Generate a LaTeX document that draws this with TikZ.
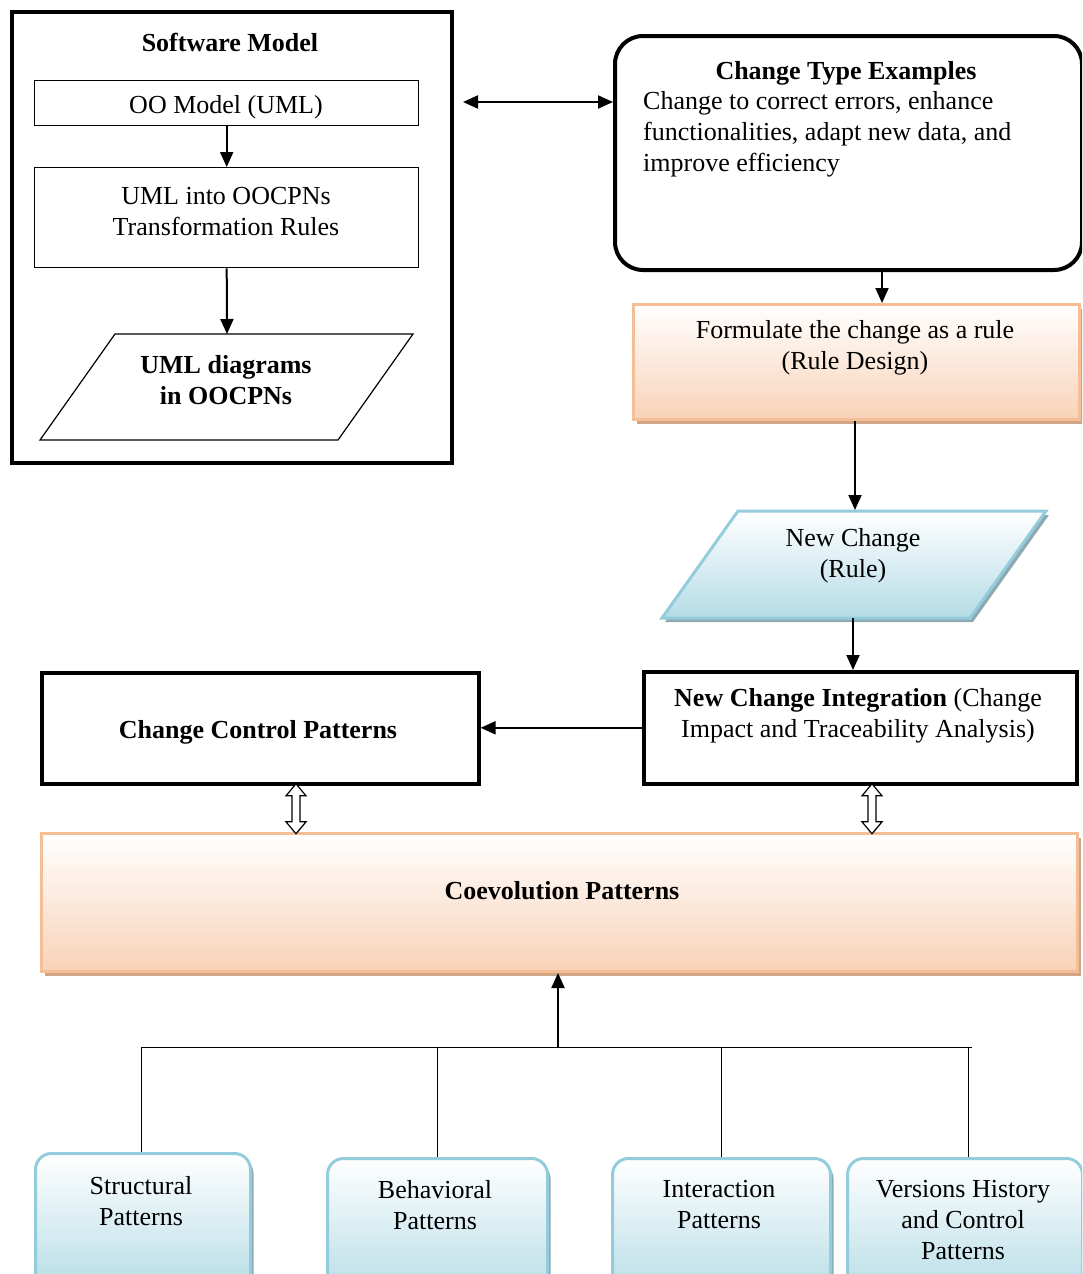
\documentclass[tikz,border=0pt]{standalone}
\usepackage{fontspec}
\setmainfont{Liberation Serif}
\usetikzlibrary{arrows.meta,calc,shadows}

\definecolor{peachline}{HTML}{F6BE94}
\definecolor{peachfill}{HTML}{F8D2B8}
\definecolor{peachshadow}{HTML}{CFA587}
\definecolor{blueline}{HTML}{93CDDC}
\definecolor{bluefill}{HTML}{B5DCE6}
\definecolor{blueshadow}{HTML}{8EA9B2}

\tikzset{
  txt/.style={font=\fontsize{26}{31}\selectfont, align=center, inner sep=0pt},
  thickbox/.style={draw, line width=3.6pt, inner sep=0pt, anchor=north west},
  thinbox/.style={draw, line width=1.4pt, inner sep=0pt, anchor=north west},
  peachbox/.style={draw=peachline, line width=3pt, inner sep=0pt, anchor=north west,
    top color=white, bottom color=peachfill,
    general shadow={fill=peachshadow, shadow xshift=3pt, shadow yshift=-4pt}},
  bluebox/.style={draw=blueline, line width=3pt, inner sep=0pt, anchor=north west,
    rounded corners=16pt, top color=white, bottom color=bluefill,
    general shadow={fill=blueshadow, shadow xshift=3pt, shadow yshift=-4pt}},
  arr/.style={line width=2pt, -{Triangle[length=15pt,width=13pt]}},
  dblarr/.style={line width=2pt, {Triangle[length=15pt,width=13pt]}-{Triangle[length=15pt,width=13pt]}},
  treeline/.style={line width=0.9pt},
  hollowdbl/.pic={
    \draw[line width=1.2pt, fill=white]
      (0,-25) -- (10,-13) -- (4,-13) -- (4,13) -- (10,13) -- (0,25)
      -- (-10,13) -- (-4,13) -- (-4,-13) -- (-10,-13) -- cycle;
  }
}

\begin{document}
\begin{tikzpicture}[x=1pt,y=-1pt]
\useasboundingbox (0,0) rectangle (1082,1274);
\clip (0,0) rectangle (1082,1274);

% ---- Software model block ----
\node[thickbox, minimum width=440, minimum height=451] (sw) at (10,10) {};
\node[txt, font=\fontsize{26}{31}\selectfont\bfseries] (swt) at (230,42) {Software Model};
\node[thinbox, minimum width=384, minimum height=45] (oo) at (34,80) {};
\node[txt] (oot) at (226,107) {OO Model (UML)};
\node[thinbox, minimum width=384, minimum height=100] (uml) at (34,167) {};
\node[txt] (umlt) at (226,212) {UML into OOCPNs\\Transformation Rules};
\draw[line width=1.2pt, fill=white] (115,334) -- (413,334) -- (338,440) -- (40,440) -- cycle;
\coordinate (diagtop) at (227,334);
\node[txt, font=\fontsize{26}{31}\selectfont\bfseries] (diag) at (226,380) {UML diagrams\\in OOCPNs};

\draw[arr] (oo.south) -- (uml.north);
\draw[arr] (uml.south) -- (diagtop);

% ---- Change type examples ----
\node[draw, line width=4pt, rounded corners=28pt, inner sep=0pt, anchor=north west,
      minimum width=467, minimum height=234] (cte) at (613,34) {};
\node[txt, font=\fontsize{26}{31}\selectfont\bfseries] (ctet) at (846,73) {Change Type Examples};
\node[txt, align=left, anchor=west] (cteb) at (643,134)
  {Change to correct errors, enhance\\functionalities, adapt new data, and\\improve efficiency};

\coordinate (dl) at (463,102);
\draw[dblarr] (dl) -- (cte.west |- dl);

% ---- Rule design ----
\node[peachbox, minimum width=446, minimum height=115] (fr) at (632,303) {};
\node[txt] (frt) at (855,348) {Formulate the change as a rule\\(Rule Design)};
\coordinate (c882) at (882,0);
\draw[arr] (cte.south -| c882) -- (fr.north -| c882);

% ---- New change parallelogram ----
\path[draw=blueline, line width=3pt, top color=white, bottom color=bluefill,
      general shadow={fill=blueshadow, shadow xshift=3pt, shadow yshift=-4pt}]
  (738,511) -- (1046,511) -- (970,618) -- (662,618) -- cycle;
\coordinate (nctop) at (855,510);
\coordinate (ncbot) at (853,618);
\node[txt] (nct) at (853,556) {New Change\\(Rule)};
\draw[arr] (fr.south -| nctop) -- (nctop);

% ---- New change integration ----
\node[thickbox, minimum width=433, minimum height=112] (nci) at (642,670) {};
\node[txt] (ncit) at (858,716) {\textbf{New Change Integration} (Change\\Impact and Traceability Analysis)};
\draw[arr] (ncbot) -- (nci.north -| ncbot);

% ---- Change control patterns ----
\node[thickbox, minimum width=437, minimum height=111] (ccp) at (40,671) {};
\node[txt, font=\fontsize{26}{31}\selectfont\bfseries] (ccpt) at (258,732) {Change Control Patterns};
\draw[arr] (nci.west) -- (ccp.east |- nci.west);

% ---- Coevolution patterns ----
\node[peachbox, minimum width=1036, minimum height=138] (coev) at (40,832) {};
\node[txt, font=\fontsize{26}{31}\selectfont\bfseries] (coevt) at (562,891) {Coevolution Patterns};

\coordinate (h1) at (296,0);
\coordinate (h2) at (872,0);
\pic at ($(ccp.south -| h1)!0.5!(coev.north -| h1)$) {hollowdbl};
\pic at ($(nci.south -| h2)!0.5!(coev.north -| h2)$) {hollowdbl};

% ---- Pattern families ----
\node[bluebox, minimum width=215, minimum height=140] (sp) at (34,1152) {};
\node[txt] (spt) at (141,1201) {Structural\\Patterns};
\node[bluebox, minimum width=220, minimum height=140] (bp) at (326,1157) {};
\node[txt] (bpt) at (435,1205) {Behavioral\\Patterns};
\node[bluebox, minimum width=218, minimum height=140] (ip) at (611,1157) {};
\node[txt] (ipt) at (719,1205) {Interaction\\Patterns};
\node[bluebox, minimum width=235, minimum height=140] (vp) at (846,1157) {};
\node[txt] (vpt) at (963,1220) {Versions History\\and Control\\Patterns};

\coordinate (hub) at (558,1047);
\coordinate (tl) at (141,1047);
\coordinate (tr) at (972,1047);
\draw[treeline] (tl) -- (tr);
\draw[arr] (hub) -- (coev.south -| hub);
\draw[treeline] (tl) -- (sp.north -| tl);
\draw[treeline] (bp.north |- hub) -- (bp.north);
\draw[treeline] (ip.north |- hub) -- (ip.north);
\coordinate (v968) at (968,1047);
\draw[treeline] (v968) -- (vp.north -| v968);
\end{tikzpicture}
\end{document}
